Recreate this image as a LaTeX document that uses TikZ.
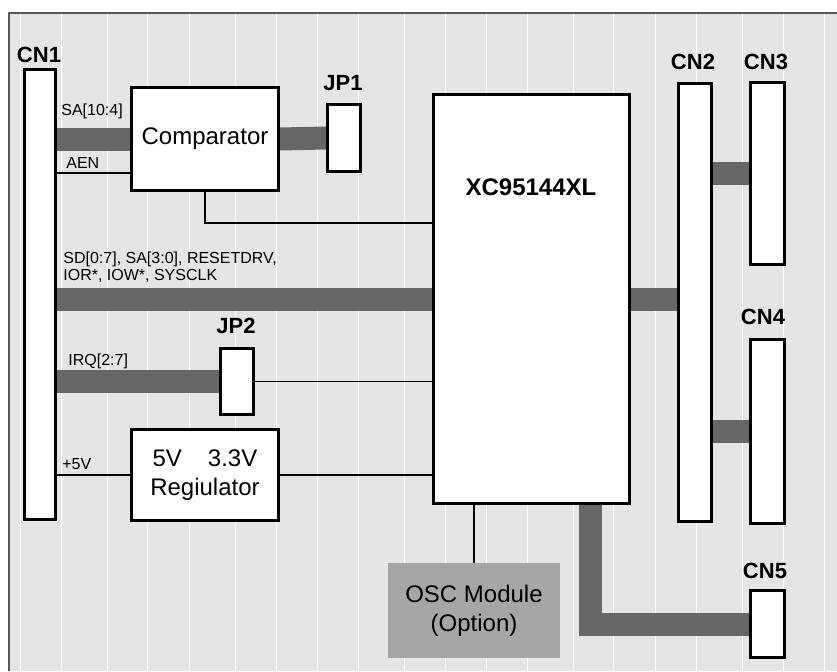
\documentclass[tikz,border=0pt]{standalone}
\usepackage{fontspec}
\setmainfont{Liberation Sans}
\usetikzlibrary{calc}
\pgfdeclarelayer{back}
\pgfdeclarelayer{wires}
\pgfsetlayers{back,wires,main}

\begin{document}
\begin{tikzpicture}[x=0.5pt, y=-0.5pt, font=\fontsize{12}{14.5}\selectfont,
    box/.style={draw, line width=1.5pt, fill=white, inner sep=0pt, align=center},
    cn/.style={font=\fontsize{11}{13}\selectfont\bfseries, inner sep=0pt},
    sig/.style={font=\fontsize{8}{8.5}\selectfont, inner sep=0pt, anchor=base west},
    bus/.style={line width=11.5pt, black!60},
    wire/.style={line width=0.8pt}]
  \useasboundingbox (0,0) rectangle (837,671);
  %% Board
  \begin{pgfonlayer}{back}
    \fill[gray!20] (9,13) rectangle (837,671);
    \foreach \x in {20,61,107,147,189,235,276,317,358,404,445,486,527,573,613,655,696,742,783,824}
      \draw[white, line width=0.5pt] (\x,13) -- (\x,671);
    \draw[black!65, line width=0.8pt] (9,671) |- (837,13);
  \end{pgfonlayer}
  %% Connectors and jumpers
  \node[box, minimum width=15.5pt, minimum height=225pt] (cn1) at (40,294.5) {};
  \node[box, minimum width=16.5pt, minimum height=33.5pt] (jp1) at (344,138) {};
  \node[box, minimum width=16.5pt, minimum height=33pt]   (jp2) at (237,381.5) {};
  \node[box, minimum width=16.5pt, minimum height=219pt]  (cn2) at (695,302.5) {};
  \node[box, minimum width=17pt,   minimum height=91pt]   (cn3) at (767.5,173.5) {};
  \node[box, minimum width=17pt,   minimum height=92pt]   (cn4) at (767.5,431.5) {};
  \node[box, minimum width=17pt,   minimum height=33.5pt] (cn5) at (767.5,624) {};
  \node[cn] (cn1lbl) at (39,54.5)  {CN1};
  \node[cn] (jp1lbl) at (343,83)   {JP1};
  \node[cn] (jp2lbl) at (236,326)  {JP2};
  \node[cn] (cn2lbl) at (693,62)   {CN2};
  \node[cn] (cn3lbl) at (766,62)   {CN3};
  \node[cn] (cn4lbl) at (763,317)  {CN4};
  \node[cn] (cn5lbl) at (765,571)  {CN5};
  %% Logic blocks
  \node[box, minimum width=73.5pt, minimum height=51.5pt] (comp) at (205,139) {Comparator};
  \node[box, minimum width=73.5pt, minimum height=45.5pt] (reg) at (205,475)
    {5V\hspace{13pt}3.3V\\Regiulator};
  \node[box, minimum width=98pt, minimum height=204.5pt] (xc) at (531.5,299) {};
  \node[font=\fontsize{12}{14}\selectfont\bfseries, inner sep=0pt] (xclbl) at (531,187) {XC95144XL};
  \node[fill=black!35, minimum width=86pt, minimum height=47.5pt, align=center] (osc)
    at (474,610.5) {OSC Module\\(Option)};
  %% Signal names
  \node[sig] (salbl)  at (61,115) {SA[10:4]};
  \node[sig] (aenlbl) at (66,168) {AEN};
  \node[sig, anchor=north west, align=left] (sdlbl) at (63,251)
    {SD[0:7], SA[3:0], RESETDRV,\\IOR*, IOW*, SYSCLK};
  \node[sig] (irqlbl) at (68,365) {IRQ[2:7]};
  \node[sig] (pwrlbl) at (62,469) {+5V};
  %% Buses and wires
  \begin{pgfonlayer}{wires}
    \draw[bus] (cn1.east |- comp.west) -- (comp.west);
    \draw[bus] (comp.east) -- (jp1.west);
    \draw[wire] (cn1.east |- {$(comp.west)+(0,34)$}) -- ($(comp.west)+(0,34)$);
    \draw[wire] (comp.south) |- ($(xc.north west)+(0,130)$);
    \draw[bus] (cn1.east |- xc.west) -- (xc.west);
    \draw[bus] (cn1.east |- jp2.west) -- (jp2.west);
    \draw[wire] (jp2.east) -- (jp2.east -| xc.west);
    \draw[wire] (cn1.east |- reg.west) -- (reg.west);
    \draw[wire] (reg.east) -- (reg.east -| xc.west);
    \draw[wire] (xc.south -| osc.north) -- (osc.north);
    \draw[bus] ($(xc.south)+(59,0)$) |- (cn5.west);
    \draw[bus] (xc.east) -- (xc.east -| cn2.west);
    \draw[bus] (cn3.west -| cn2.east) -- (cn3.west);
    \draw[bus] (cn4.west -| cn2.east) -- (cn4.west);
  \end{pgfonlayer}
\end{tikzpicture}
\end{document}
